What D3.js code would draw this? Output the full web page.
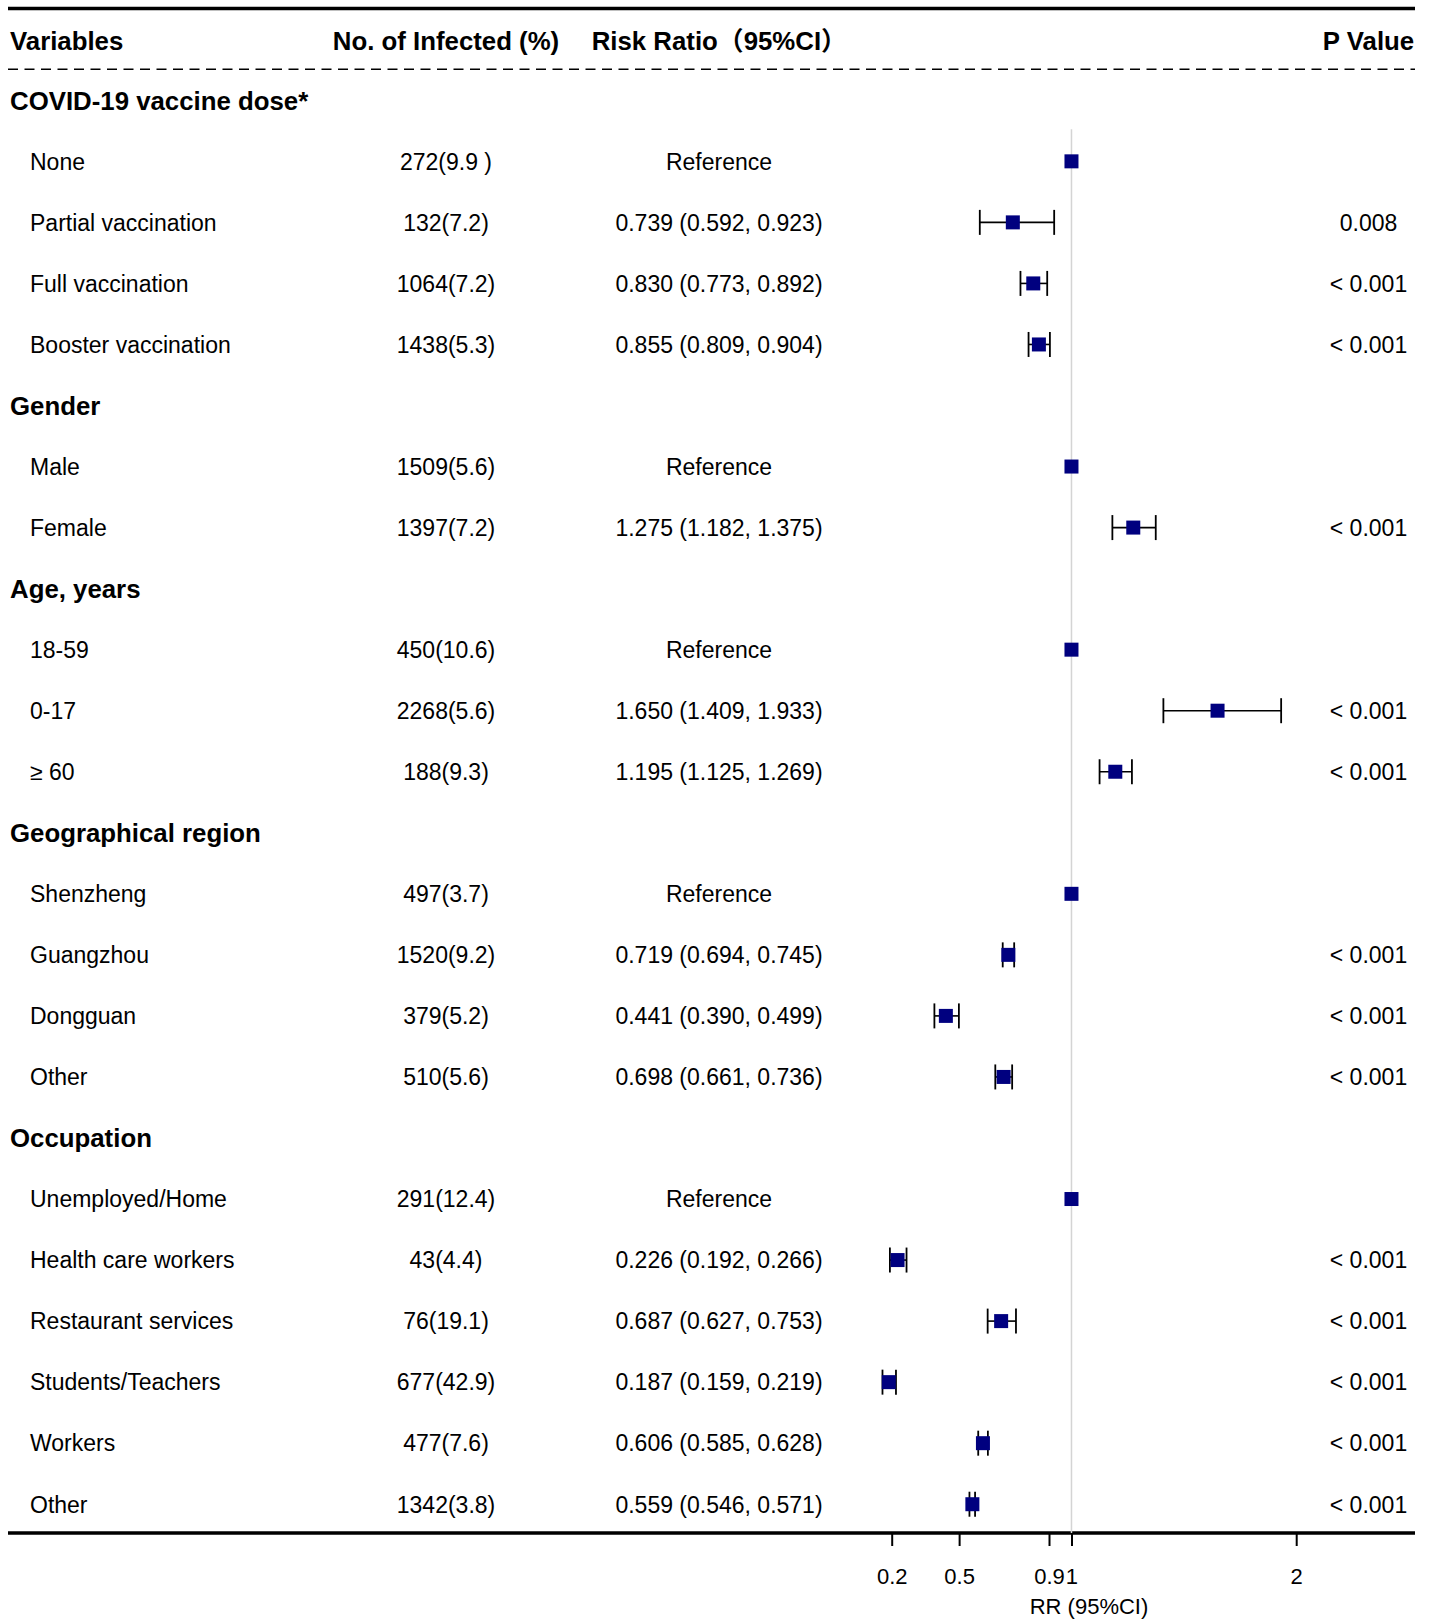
<!DOCTYPE html>
<html lang="en">
  <head>
    <meta charset="UTF-8" />
    <title>Risk ratio forest plot</title>
    <style>
      body {
        margin: 0;
        background: #ffffff;
      }
      svg {
        display: block;
        font-family: "Liberation Sans", Arial, sans-serif;
      }
      .txt {
        font-size: 23px;
        fill: #000;
      }
      .bold {
        font-size: 25.8px;
        font-weight: bold;
      }
      .cjk {
        font-family: "Noto Sans CJK SC", sans-serif;
      }
      .axis text {
        font-family: "Liberation Sans", Arial, sans-serif;
        font-size: 22px;
        fill: #000;
      }
      .axis line {
        stroke: #000;
        stroke-width: 2px;
      }
    </style>
    <script src="https://d3js.org/d3.v7.min.js"></script>
  </head>
  <body>
    <svg id="chart"></svg>
    <script>
      // rows top to bottom; group headers carry empty values
      const variables = [
        "COVID-19 vaccine dose*", "None", "Partial vaccination", "Full vaccination", "Booster vaccination",
        "Gender", "Male", "Female",
        "Age, years", "18-59", "0-17", "≥ 60",
        "Geographical region", "Shenzheng", "Guangzhou", "Dongguan", "Other",
        "Occupation", "Unemployed/Home", "Health care workers", "Restaurant services",
        "Students/Teachers", "Workers", "Other"
      ];
      const isGroup = [
        1, 0, 0, 0, 0,
        1, 0, 0,
        1, 0, 0, 0,
        1, 0, 0, 0, 0,
        1, 0, 0, 0, 0, 0, 0
      ];
      const infected = [
        "", "272(9.9 )", "132(7.2)", "1064(7.2)", "1438(5.3)",
        "", "1509(5.6)", "1397(7.2)",
        "", "450(10.6)", "2268(5.6)", "188(9.3)",
        "", "497(3.7)", "1520(9.2)", "379(5.2)", "510(5.6)",
        "", "291(12.4)", "43(4.4)", "76(19.1)", "677(42.9)", "477(7.6)", "1342(3.8)"
      ];
      const rr = [
        null, 1, 0.739, 0.830, 0.855,
        null, 1, 1.275,
        null, 1, 1.650, 1.195,
        null, 1, 0.719, 0.441, 0.698,
        null, 1, 0.226, 0.687, 0.187, 0.606, 0.559
      ];
      const ciLow = [
        null, null, 0.592, 0.773, 0.809,
        null, null, 1.182,
        null, null, 1.409, 1.125,
        null, null, 0.694, 0.390, 0.661,
        null, null, 0.192, 0.627, 0.159, 0.585, 0.546
      ];
      const ciHigh = [
        null, null, 0.923, 0.892, 0.904,
        null, null, 1.375,
        null, null, 1.933, 1.269,
        null, null, 0.745, 0.499, 0.736,
        null, null, 0.266, 0.753, 0.219, 0.628, 0.571
      ];
      const pValues = [
        "", "", "0.008", "< 0.001", "< 0.001",
        "", "", "< 0.001",
        "", "", "< 0.001", "< 0.001",
        "", "", "< 0.001", "< 0.001", "< 0.001",
        "", "", "< 0.001", "< 0.001", "< 0.001", "< 0.001", "< 0.001"
      ];
      const headers = ["Variables", "No. of Infected (%)", "Risk Ratio", "95%CI", "P Value"];
      const tickValues = [0.2, 0.5, 0.9, 1, 2];
      const axisTitle = "RR (95%CI)";

      const width = 1431;
      const height = 1622;
      const left = 8;
      const right = 1415;

      const svg = d3.select("#chart").attr("width", width).attr("height", height);

      const rows = variables.map((v, i) => ({
        label: v,
        group: isGroup[i] === 1,
        n: infected[i],
        rr: rr[i],
        lo: ciLow[i],
        hi: ciHigh[i],
        p: pValues[i],
      }));

      const y = d3
        .scalePoint()
        .domain(d3.range(rows.length))
        .range([100.3, 100.3 + 61.04 * (rows.length - 1)]);

      const x = d3.scaleLinear().domain([0.2, 2]).range([891.7, 1296.2]);

      const colN = 446;
      const colRR = 719;
      const colP = 1368.5;
      const axisY = 1533;

      // rules
      svg.append("line")
        .attr("x1", left).attr("x2", right)
        .attr("y1", 8.5).attr("y2", 8.5)
        .attr("stroke", "#000").attr("stroke-width", 3.5);
      svg.append("line")
        .attr("x1", left).attr("x2", right)
        .attr("y1", 69.3).attr("y2", 69.3)
        .attr("stroke", "#000").attr("stroke-width", 1.5)
        .attr("stroke-dasharray", "10,6.5");
      svg.append("line")
        .attr("x1", left).attr("x2", right)
        .attr("y1", axisY).attr("y2", axisY)
        .attr("stroke", "#000").attr("stroke-width", 3.5);

      // header
      const hy = 40.3;
      const head = svg.append("g").attr("class", "txt bold");
      head.append("text").attr("x", 10).attr("y", hy).attr("dy", "0.36em").text(headers[0]);
      head.append("text").attr("x", colN).attr("y", hy).attr("dy", "0.36em")
        .attr("text-anchor", "middle").text(headers[1]);
      const rrHead = head.append("text").attr("x", 591.7).attr("y", hy).attr("dy", "0.36em");
      rrHead.append("tspan").text(headers[2]);
      rrHead.append("tspan").attr("class", "cjk").text("（");
      rrHead.append("tspan").text(headers[3]);
      rrHead.append("tspan").attr("class", "cjk").text("）");
      head.append("text").attr("x", colP).attr("y", hy).attr("dy", "0.36em")
        .attr("text-anchor", "middle").text(headers[4]);

      // reference line at RR = 1
      svg.append("line")
        .attr("x1", x(1)).attr("x2", x(1))
        .attr("y1", 129.3).attr("y2", axisY)
        .attr("stroke", "#d4d4d4").attr("stroke-width", 1.5);

      // table text
      const rowG = svg.append("g")
        .selectAll("g")
        .data(rows)
        .join("g")
        .attr("transform", (d, i) => `translate(0,${y(i)})`);

      rowG.append("text")
        .attr("class", (d) => (d.group ? "txt bold" : "txt"))
        .attr("x", (d) => (d.group ? 10 : 30))
        .attr("dy", "0.36em")
        .text((d) => d.label);

      rowG.filter((d) => !d.group).append("text")
        .attr("class", "txt")
        .attr("x", colN)
        .attr("dy", "0.36em")
        .attr("text-anchor", "middle")
        .text((d) => d.n);

      rowG.filter((d) => !d.group).append("text")
        .attr("class", "txt")
        .attr("x", colRR)
        .attr("dy", "0.36em")
        .attr("text-anchor", "middle")
        .text((d) =>
          d.lo == null
            ? "Reference"
            : `${d.rr.toFixed(3)} (${d.lo.toFixed(3)}, ${d.hi.toFixed(3)})`
        );

      rowG.filter((d) => d.p !== "").append("text")
        .attr("class", "txt")
        .attr("x", colP)
        .attr("dy", "0.36em")
        .attr("text-anchor", "middle")
        .text((d) => d.p);

      // confidence intervals
      const ci = rowG.filter((d) => d.lo != null);
      ci.append("line")
        .attr("x1", (d) => x(d.lo)).attr("x2", (d) => x(d.hi))
        .attr("stroke", "#000").attr("stroke-width", 1.6);
      ci.append("line")
        .attr("x1", (d) => x(d.lo)).attr("x2", (d) => x(d.lo))
        .attr("y1", -12.5).attr("y2", 12.5)
        .attr("stroke", "#000").attr("stroke-width", 1.8);
      ci.append("line")
        .attr("x1", (d) => x(d.hi)).attr("x2", (d) => x(d.hi))
        .attr("y1", -12.5).attr("y2", 12.5)
        .attr("stroke", "#000").attr("stroke-width", 1.8);

      // point estimates
      const sq = 14;
      rowG.filter((d) => d.rr != null).append("rect")
        .attr("x", (d) => x(d.rr) - sq / 2)
        .attr("y", -sq / 2)
        .attr("width", sq)
        .attr("height", sq)
        .attr("fill", "#00007f");

      // axis
      const axis = svg.append("g")
        .attr("class", "axis")
        .attr("transform", `translate(0,${axisY})`)
        .call(
          d3.axisBottom(x)
            .tickValues(tickValues)
            .tickSize(13)
            .tickPadding(22)
            .tickFormat(d3.format("~g"))
        );
      axis.select(".domain").remove();

      svg.append("text")
        .attr("class", "txt")
        .attr("x", 1089)
        .attr("y", 1606.5)
        .attr("dy", "0.36em")
        .attr("text-anchor", "middle")
        .style("font-size", "22px")
        .text(axisTitle);
    </script>
  </body>
</html>
